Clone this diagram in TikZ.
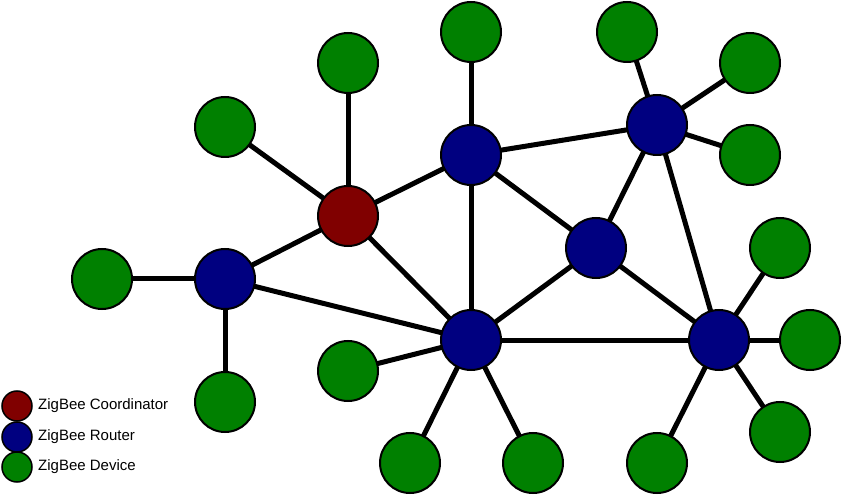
\documentclass[tikz,border=0pt]{standalone}
\usepackage{fontspec}
\setmainfont{Liberation Sans}
\usetikzlibrary{positioning, backgrounds}
\definecolor{coordred}{RGB}{128,0,0}
\definecolor{routerblue}{RGB}{0,0,128}
\definecolor{devgreen}{RGB}{0,128,0}

\begin{document}
\begin{tikzpicture}[
    x=1pt, y=-1pt,
    dev/.style={circle, draw, line width=2pt, minimum size=60pt, inner sep=0pt},
    coord/.style={dev, fill=coordred},
    router/.style={dev, fill=routerblue},
    device/.style={dev, fill=devgreen},
    legdot/.style={circle, draw, line width=1.5pt, minimum size=30pt, inner sep=0pt},
    legtext/.style={right, inner sep=0pt, font=\fontsize{15}{17}\selectfont},
    link/.style={line width=5pt},
]
\useasboundingbox (0,0) rectangle (844,497);

% Routers and coordinator
\node[coord] (zc) at (348,216) {};
\node[router] (r1) at (225,279) {};
\node[router] (r2) at (471,155) {};
\node[router] (r3) at (657,125) {};
\node[router] (r4) at (596,248) {};
\node[router] (r5) at (471,340) {};
\node[router] (r6) at (719,340) {};

% End devices
\node[device] (d1) at (225,127) {};
\node[device] (d2) at (348,63) {};
\node[device] (d3) at (102,279) {};
\node[device] (d4) at (225,402) {};
\node[device] (d5) at (471,32) {};
\node[device] (d6) at (627,32) {};
\node[device] (d7) at (750,63) {};
\node[device] (d8) at (750,155) {};
\node[device] (d9) at (780,248) {};
\node[device] (d10) at (810,340) {};
\node[device] (d11) at (780,432) {};
\node[device] (d12) at (657,463) {};
\node[device] (d13) at (348,371) {};
\node[device] (d14) at (410,463) {};
\node[device] (d15) at (533,463) {};

% Links behind the nodes
\begin{scope}[on background layer]
\foreach \a/\b in {zc/r1, zc/r2, zc/r5, r1/r5, r2/r5, r2/r3, r2/r4, r3/r4, r3/r6,
                   r4/r5, r4/r6, r5/r6, zc/d1, zc/d2, r1/d3, r1/d4, r2/d5,
                   r3/d6, r3/d7, r3/d8, r6/d9, r6/d10, r6/d11, r6/d12,
                   r5/d13, r5/d14, r5/d15}
    \draw[link] (\a.center) -- (\b.center);
\end{scope}

% Legend
\node[legdot, fill=coordred] (lc) at (17,406) {};
\node[legdot, fill=routerblue] (lr) at (17,437) {};
\node[legdot, fill=devgreen] (ld) at (17,467) {};
\node[legtext] (lct) at (38,406) {ZigBee Coordinator};
\node[legtext] (lrt) at (38,437) {ZigBee Router};
\node[legtext] (ldt) at (38,467) {ZigBee Device};

\end{tikzpicture}
\end{document}
